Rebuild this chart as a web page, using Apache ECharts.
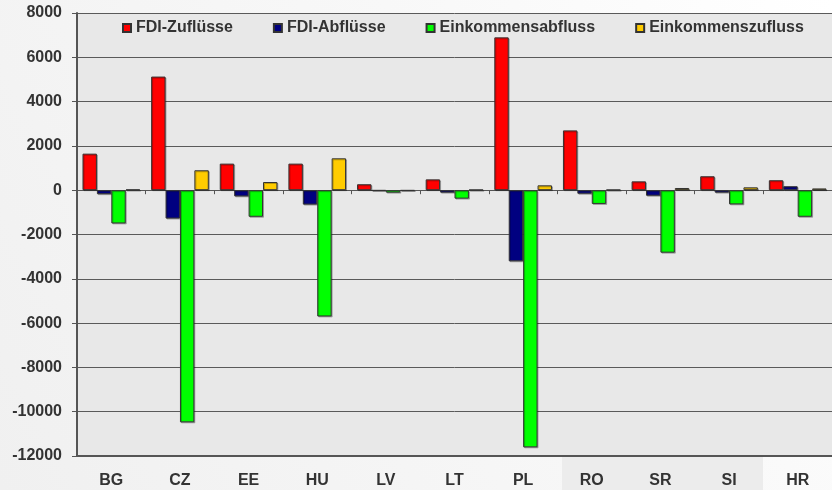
<!DOCTYPE html>
<html><head><meta charset="utf-8">
<script src="https://cdn.jsdelivr.net/npm/echarts@6/dist/echarts.min.js"></script>
<style>html,body{margin:0;padding:0;}#c{width:832px;height:490px;}</style>
</head><body><div id="c"></div>
<script>
const categories = ['BG','CZ','EE','HU','LV','LT','PL','RO','SR','SI','HR'];
const seriesNames = ['FDI-Zuflüsse','FDI-Abflüsse','Einkommensabfluss','Einkommenszufluss'];
const fdiZufluesse = [1650, 5130, 1200, 1200, 270, 490, 6900, 2700, 400, 630, 450];
const fdiAbfluesse = [-180, -1280, -280, -650, -20, -110, -3210, -160, -250, -110, 180];
const einkommensabfluss = [-1500, -10480, -1200, -5700, -110, -380, -11610, -620, -2820, -640, -1200];
const einkommenszufluss = [30, 900, 370, 1440, -20, 20, 220, 20, 100, 130, 80];
const colors = ['#ff0000', '#000080', '#00ff00', '#ffcc00'];
const yMin = -12000, yMax = 8000, yStep = 2000;

const chart = echarts.init(document.getElementById('c'));
const font = "'Liberation Sans', Arial, sans-serif";
const dataSets = [fdiZufluesse, fdiAbfluesse, einkommensabfluss, einkommenszufluss];
chart.setOption({
  animation: false,
  backgroundColor: {
    type: 'linear', x: 0, y: 1, x2: 1, y2: 0,
    colorStops: [{offset: 0, color: '#f0f0f0'}, {offset: 0.6, color: '#f8f8f8'}, {offset: 1, color: '#ffffff'}]
  },
  graphic: [{
    type: 'rect', z: -1, shape: {x: 562, y: 457, width: 201, height: 33},
    style: {fill: '#ececec'}
  }],
  grid: {left: 77, top: 13, width: 768, height: 443, show: true,
    backgroundColor: '#e8e8e8', borderWidth: 0},
  legend: {
    left: 117, top: 15, itemWidth: 8, itemHeight: 8, itemGap: 40,
    icon: 'rect',
    textStyle: {fontFamily: font, fontWeight: 'bold', fontSize: 16, color: '#333'},
    data: seriesNames
  },
  xAxis: [{
    type: 'category', data: categories, position: 'bottom',
    axisLine: {onZero: false, lineStyle: {color: '#555', width: 2}},
    axisTick: {show: false},
    axisLabel: {fontFamily: font, fontWeight: 'bold', fontSize: 16, color: '#333', margin: 17}
  }, {
    type: 'category', data: categories, position: 'bottom',
    axisLine: {onZero: true, lineStyle: {color: '#555', width: 1}},
    axisTick: {show: true, length: 4, lineStyle: {color: '#555'}},
    axisLabel: {show: false}
  }],
  yAxis: {
    type: 'value', min: yMin, max: yMax, interval: yStep,
    axisLine: {show: true, lineStyle: {color: '#555', width: 2}},
    axisTick: {show: true, length: 5, lineStyle: {color: '#555'}},
    axisLabel: {fontFamily: font, fontWeight: 'bold', fontSize: 16, color: '#333', margin: 15,
      formatter: v => String(v)},
    splitLine: {lineStyle: {color: '#5a5a5a', width: 1}}
  },
  series: dataSets.map((d, i) => ({
    name: seriesNames[i], type: 'bar', data: d, xAxisIndex: 0,
    barGap: '0%', barCategoryGap: '16%',
    itemStyle: {color: colors[i], borderColor: '#333', borderWidth: 1,
      shadowColor: 'rgba(0,0,0,0.25)', shadowOffsetX: 1, shadowOffsetY: 1}
  }))
});
</script></body></html>
